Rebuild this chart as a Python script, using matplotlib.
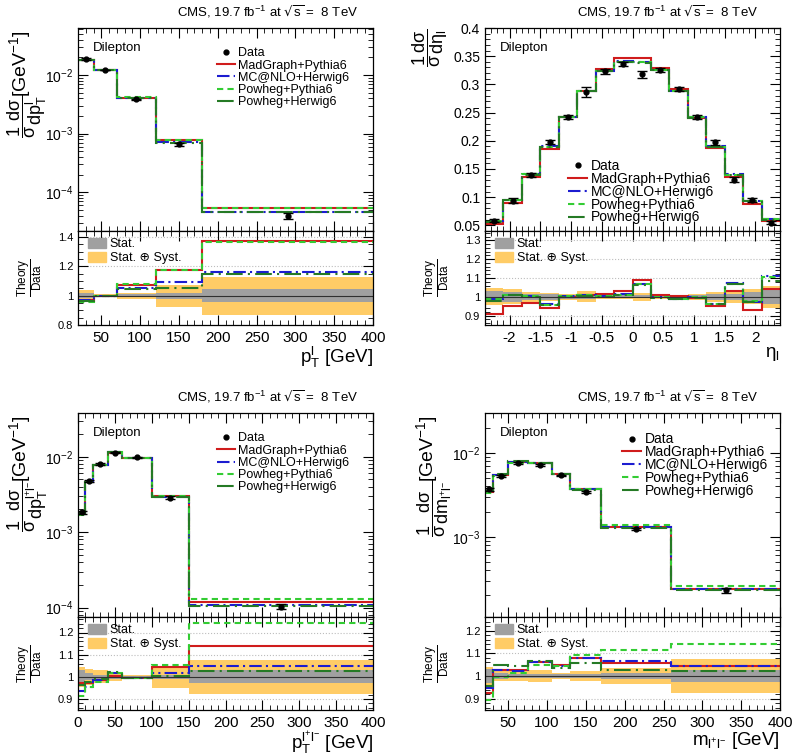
import numpy as np
import matplotlib
matplotlib.use('Agg')
from matplotlib import pyplot as plt, ticker as tick
from matplotlib.lines import Line2D
from matplotlib.patches import Patch

plt.rcParams['font.family'] = ['Liberation Sans', 'DejaVu Sans']
plt.rcParams['mathtext.default'] = 'regular'
plt.rcParams['axes.unicode_minus'] = False

# ---- lepton pT ----
edges1 = [20, 40, 70, 120, 180, 400]
data1 = [0.0188, 0.0122, 0.00383, 0.000656, 0.0000400]
stat1 = [0.015, 0.005, 0.008, 0.02, 0.045]
syst1 = [0.035, 0.012, 0.02, 0.075, 0.13]
mg1 = [0.97, 1.0, 1.075, 1.175, 1.37]
mc1 = [0.97, 1.0, 1.055, 1.095, 1.16]
pp1 = [0.96, 1.0, 1.08, 1.175, 1.365]
ph1 = [0.965, 1.0, 1.045, 1.05, 1.145]

# ---- lepton eta ----
edges2 = [-2.4, -2.1, -1.8, -1.5, -1.2, -0.9, -0.6, -0.3, 0.0, 0.3, 0.6, 0.9, 1.2, 1.5, 1.8, 2.1, 2.4]
data2 = [0.058, 0.094, 0.140, 0.198, 0.242, 0.286, 0.323, 0.336, 0.318, 0.326, 0.291, 0.242, 0.197, 0.131, 0.095, 0.055]
stat2 = [0.03, 0.025, 0.015, 0.015, 0.01, 0.01, 0.008, 0.008, 0.008, 0.008, 0.008, 0.01, 0.015, 0.015, 0.025, 0.04]
syst2 = [0.045, 0.04, 0.025, 0.02, 0.015, 0.03, 0.012, 0.012, 0.02, 0.012, 0.012, 0.015, 0.025, 0.035, 0.04, 0.06]
mg2 = [0.907, 0.952, 0.966, 0.94, 1.0, 1.009, 1.014, 1.032, 1.089, 1.011, 1.005, 0.996, 0.952, 1.032, 0.93, 1.041]
mc2 = [0.99, 1.012, 1.003, 0.96, 1.003, 1.007, 1.003, 1.014, 1.068, 1.0, 0.989, 1.0, 0.964, 1.071, 0.975, 1.113]
pp2 = [0.988, 1.009, 1.002, 0.957, 1.002, 1.007, 1.002, 1.012, 1.066, 0.998, 0.989, 0.998, 0.963, 1.07, 0.979, 1.104]
ph2 = [0.979, 1.011, 1.0, 0.955, 1.0, 1.005, 1.0, 1.011, 1.064, 0.996, 0.988, 0.996, 0.961, 1.068, 0.975, 1.086]

# ---- ttbar (dilepton) pT ----
edges3 = [0, 10, 20, 40, 60, 100, 150, 400]
data3 = [0.00185, 0.0048, 0.0079, 0.0113, 0.0098, 0.00288, 0.000103]
stat3 = [0.03, 0.015, 0.01, 0.008, 0.005, 0.008, 0.03]
syst3 = [0.045, 0.035, 0.03, 0.02, 0.008, 0.05, 0.078]
mg3 = [0.97, 0.97, 0.985, 1.005, 0.995, 1.045, 1.14]
mc3 = [0.935, 0.955, 0.985, 1.015, 0.995, 1.015, 1.05]
pp3 = [0.915, 0.955, 0.975, 1.015, 0.995, 1.055, 1.245]
ph3 = [0.965, 0.975, 0.99, 1.02, 0.995, 1.005, 1.025]

# ---- dilepton mass ----
edges4 = [20, 30, 50, 76, 106, 130, 170, 260, 400]
data4 = [0.0037, 0.0053, 0.0076, 0.0072, 0.0054, 0.0034, 0.00123, 0.000228]
stat4 = [0.03, 0.012, 0.01, 0.01, 0.01, 0.01, 0.012, 0.027]
syst4 = [0.04, 0.023, 0.02, 0.025, 0.015, 0.02, 0.035, 0.075]
mg4 = [0.925, 1.025, 1.025, 1.06, 1.05, 1.078, 1.057, 1.042]
mc4 = [0.945, 1.025, 1.02, 1.06, 1.045, 1.078, 1.065, 1.045]
pp4 = [0.895, 0.995, 1.012, 1.05, 1.045, 1.093, 1.115, 1.14]
ph4 = [0.955, 1.049, 1.042, 1.067, 1.035, 1.057, 1.027, 1.023]

names = ['MadGraph+Pythia6', 'MC@NLO+Herwig6', 'Powheg+Pythia6', 'Powheg+Herwig6']
colors = ['#d01c1c', '#1c1cd0', '#33cc33', '#257a25']
styles = ['-', (0, (6, 2, 1, 2)), (0, (3, 2)), (0, (8, 2.5, 1, 2.5))]
band_stat = '#a0a0a0'
band_syst = '#ffcc66'

title = r'CMS, 19.7 fb$^{-1}$ at $\sqrt{s}$ =  8 TeV'

fig = plt.figure(figsize=(7.93, 7.56), dpi=100)
W, H = 793.0, 756.0


def make_axes(x0, x1, ytop, ymid, ybot):
    main = fig.add_axes([x0 / W, 1 - ymid / H, (x1 - x0) / W, (ymid - ytop) / H])
    ratio = fig.add_axes([x0 / W, 1 - ybot / H, (x1 - x0) / W, (ybot - ymid) / H], sharex=main)
    return main, ratio


def style_ax(ax, ylab_size):
    ax.tick_params(which='both', direction='in', top=True, right=True)
    ax.tick_params(which='major', length=7, width=0.8)
    ax.tick_params(which='minor', length=3.5, width=0.6)
    ax.tick_params(axis='y', labelsize=ylab_size)
    for s in ax.spines.values():
        s.set_linewidth(0.9)


def draw(main, ratio, edges, data, stat, syst, ratios, logy, ylim, rlim, yfrac, unit, xlabel,
         xmaj, xmin, rmaj, rmin, leg_pos, leg_size):
    edges = np.array(edges)
    data = np.array(data)
    centers = 0.5 * (edges[1:] + edges[:-1])
    # theory in main panel
    for r, c, ls in zip(ratios, colors, styles):
        main.stairs(data * np.array(r), edges, baseline=None, color=c, ls=ls, lw=1.5)
    main.errorbar(centers, data, yerr=data * np.array(syst), fmt='o', color='k', ms=3.5,
                  capsize=3.5, elinewidth=1.0, capthick=1.0, zorder=5)
    if logy:
        main.set_yscale('log')
        main.yaxis.set_minor_locator(tick.LogLocator(base=10, subs=np.arange(2, 10) * 0.1, numticks=20))
        main.yaxis.set_minor_formatter(tick.NullFormatter())
    else:
        main.yaxis.set_major_locator(tick.MultipleLocator(0.05))
        main.yaxis.set_minor_locator(tick.MultipleLocator(0.01))
        main.yaxis.set_major_formatter(tick.FormatStrFormatter('%g'))
    main.set_ylim(*ylim)
    main.set_xlim(edges[0], edges[-1])
    main.xaxis.set_major_locator(tick.MultipleLocator(xmaj))
    main.xaxis.set_minor_locator(tick.MultipleLocator(xmin))
    style_ax(main, 10)
    plt.setp(main.get_xticklabels(), visible=False)

    # y title: unit on top, fraction below it (ROOT style, right aligned)
    if unit:
        main.text(-0.195, 0.99, unit, transform=main.transAxes, rotation=90, fontsize=14,
                  ha='center', va='top')
        main.text(-0.172, 0.675, yfrac, transform=main.transAxes, rotation=90, fontsize=13,
                  ha='center', va='top')
    else:
        main.text(-0.186, 1.0, yfrac, transform=main.transAxes, rotation=90, fontsize=13,
                  ha='center', va='top')
    main.text(0.05, 0.9, 'Dilepton', transform=main.transAxes, fontsize=9.5, va='center')

    handles = [Line2D([], [], marker='o', color='k', ls='none', ms=3.5)]
    for c, ls in zip(colors, styles):
        handles.append(Line2D([], [], color=c, ls=ls, lw=1.5))
    main.legend(handles, ['Data'] + names, loc='upper left', bbox_to_anchor=leg_pos, frameon=False,
                fontsize=leg_size, handlelength=1.4, handletextpad=0.25,
                labelspacing=0.02 if leg_size < 9.5 else -0.08,
                borderpad=0, borderaxespad=0)

    # ratio panel
    one = np.ones(len(data))
    ratio.stairs(one + np.array(syst), edges, baseline=one - np.array(syst), fill=True,
                 color=band_syst, lw=0)
    ratio.stairs(one + np.array(stat), edges, baseline=one - np.array(stat), fill=True,
                 color=band_stat, lw=0)
    ratio.axhline(1.0, color='#303030', lw=0.8)
    for r, c, ls in zip(ratios, colors, styles):
        ratio.stairs(r, edges, baseline=None, color=c, ls=ls, lw=1.5)
    ratio.set_ylim(*rlim)
    ratio.yaxis.set_major_locator(tick.MultipleLocator(rmaj))
    ratio.yaxis.set_minor_locator(tick.MultipleLocator(rmin))
    ratio.yaxis.set_major_formatter(tick.FormatStrFormatter('%g'))
    ratio.xaxis.set_major_formatter(tick.FormatStrFormatter('%g'))
    ratio.yaxis.grid(True, which='major', ls=':', color='#bdbdbd', lw=0.8)
    ratio.set_axisbelow(True)
    style_ax(ratio, 8)
    ratio.tick_params(axis='x', labelsize=11, pad=4)
    ratio.text(-0.165, 0.5, r'$\dfrac{Theory}{Data}$', transform=ratio.transAxes, rotation=90,
               fontsize=8.5, ha='center', va='center')
    ratio.set_xlabel(xlabel, fontsize=13.5, loc='right', labelpad=0)
    ratio.legend([Patch(color=band_stat), Patch(color=band_syst)],
                 ['Stat.', 'Stat. \u2295 Syst.'], loc='upper left', bbox_to_anchor=(0.035, 0.93),
                 frameon=False, fontsize=9, handlelength=1.4, handleheight=0.9,
                 handletextpad=0.3, labelspacing=0.15, borderpad=0, borderaxespad=0)


m1, r1 = make_axes(78, 373, 28, 231, 325)
m2, r2 = make_axes(485, 780, 28, 231, 325)
m3, r3 = make_axes(78, 373, 413, 617, 710)
m4, r4 = make_axes(485, 780, 413, 617, 710)

gev = r'[GeV$^{-1}$]'
draw(m1, r1, edges1, data1, stat1, syst1, [mg1, mc1, pp1, ph1], True, (2.2e-5, 6.3e-2), (0.8, 1.44),
     r'$\dfrac{1}{\sigma}\dfrac{d\sigma}{dp_{T}^{l}}$', gev, r'$p_{T}^{l}$ [GeV]',
     50, 10, 0.2, 0.05, (0.472, 0.905), 9)
draw(m2, r2, edges2, data2, stat2, syst2, [mg2, mc2, pp2, ph2], False, (0.04, 0.4), (0.85, 1.35),
     r'$\dfrac{1}{\sigma}\dfrac{d\sigma}{d\eta_{l}}$', None, r'$\eta_{l}$',
     0.5, 0.1, 0.1, 0.02, (0.281, 0.355), 10)
draw(m3, r3, edges3, data3, stat3, syst3, [mg3, mc3, pp3, ph3], True, (7.5e-5, 3.8e-2), (0.85, 1.27),
     r'$\dfrac{1}{\sigma}\dfrac{d\sigma}{dp_{T}^{l^{+}l^{-}}}$', gev, r'$p_{T}^{l^{+}l^{-}}$ [GeV]',
     50, 10, 0.1, 0.02, (0.472, 0.905), 9)
draw(m4, r4, edges4, data4, stat4, syst4, [mg4, mc4, pp4, ph4], True, (1.1e-4, 3.0e-2), (0.85, 1.26),
     r'$\dfrac{1}{\sigma}\dfrac{d\sigma}{dm_{l^{+}l^{-}}}$', gev, r'$m_{l^{+}l^{-}}$ [GeV]',
     50, 10, 0.1, 0.02, (0.464, 0.905), 10)

# CMS headers
for x, y in [(358, 12), (758, 12), (358, 397), (758, 397)]:
    fig.text(x / W, 1 - y / H, title, ha='right', va='center', fontsize=9.5)

fig.savefig('out.png', dpi=100)
